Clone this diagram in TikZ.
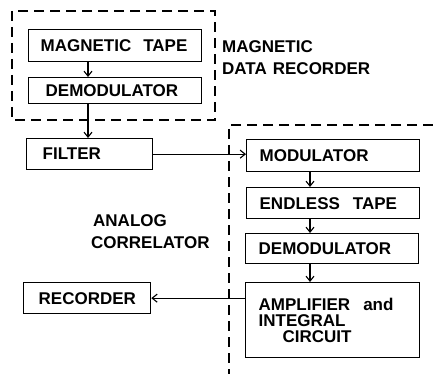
\documentclass[tikz,border=0pt]{standalone}
\usepackage{fontspec}
\setmainfont{Liberation Sans}
\usetikzlibrary{arrows.meta,calc}
\begin{document}
\begin{tikzpicture}[x=1pt,y=-1pt,
  txt/.style={font=\fontsize{17}{16}\selectfont\bfseries},
  box/.style={txt, draw, line width=1.3pt, anchor=north west, align=left, inner ysep=0pt},
  grp/.style={line width=1.2pt, dash pattern=on 10pt off 6pt},
  arr/.style={line width=1.1pt, -{Straight Barb[length=5pt,width=8pt,line width=1.1pt]}},
  lbl/.style={txt, anchor=base west, inner sep=0pt}]
\useasboundingbox (0,0) rectangle (433,374);
% group outlines
\draw[grp] (12,11) rectangle (215,120);
\draw[grp] (433,125) -- (229,125) -- (229,374);
% boxes
\node[box, text width=149pt, inner xsep=12pt, minimum height=32pt] (mt) at (28,29) {MAGNETIC\hspace{12pt}TAPE};
\node[box, text width=139pt, inner xsep=17pt, minimum height=26pt] (dm1) at (28,77) {DEMODULATOR};
\node[box, text width=94pt, inner xsep=16pt, minimum height=31pt] (filter) at (26,138) {FILTER};
\node[box, text width=147pt, inner xsep=13pt, minimum height=32pt] (mod) at (246,139) {MODULATOR};
\node[box, text width=147pt, inner xsep=13pt, minimum height=31pt] (et) at (246,187) {ENDLESS\hspace{13pt}TAPE};
\node[box, text width=147pt, inner xsep=13pt, minimum height=30pt] (dm2) at (245,233) {DEMODULATOR};
\node[box, text width=148pt, inner xsep=13pt, minimum height=75pt] (amp) at (245,282) {AMPLIFIER\hspace{13pt}and\\INTEGRAL\\\hspace*{24pt}CIRCUIT};
\node[box, text width=97pt, inner xsep=15pt, minimum height=31pt] (rec) at (23,282) {RECORDER};
% labels
\node[lbl] (lm1) at (222,53) {MAGNETIC};
\node[lbl] (lm2) at (222,75) {DATA\hspace{6pt}RECORDER};
\node[lbl] (la1) at (93,226) {ANALOG};
\node[lbl] (la2) at (91,248) {CORRELATOR};
% connectors
\coordinate (cx) at (88,0);
\coordinate (cy) at (310,0);
\draw[arr] (cx |- mt.south) -- (cx |- dm1.north);
\draw[arr] (cx |- dm1.south) -- (cx |- filter.north);
\draw[arr] (filter.east) -- (filter.east -| mod.west);
\draw[arr] (cy |- mod.south) -- (cy |- et.north);
\draw[arr] (cy |- et.south) -- (cy |- dm2.north);
\draw[arr] (cy |- dm2.south) -- (cy |- amp.north);
\draw[arr] (amp.west |- rec.east) -- (rec.east);
\end{tikzpicture}
\end{document}
